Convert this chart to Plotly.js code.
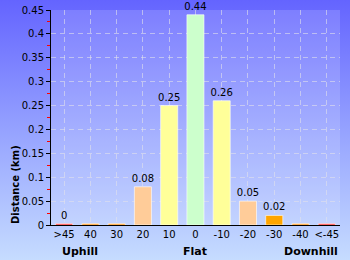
<!DOCTYPE html>
<html>
<head>
<meta charset="utf-8">
<script src="https://cdn.plot.ly/plotly-3.0.1.min.js"></script>
<style>
html,body{margin:0;padding:0;}
body{width:350px;height:260px;background:linear-gradient(to bottom,#6464ff 0%,#9aa8ff 55%,#c6dcff 100%);}
#chart{width:350px;height:260px;}
</style>
</head>
<body>
<div id="chart"></div>
<script>
const categories = ["&gt;45","40","30","20","10","0","-10","-20","-30","-40","&lt;-45"];
const distances = [0.003,0.003,0.003,0.08,0.25,0.44,0.26,0.05,0.02,0.003,0.003];
const labels = ["0","","","0.08","0.25","0.44","0.26","0.05","0.02","",""];
const colors = ["#ff2020","#ff8c00","#ff8c00","#ffcc99","#ffff99","#ccffcc","#ffff99","#ffcc99","#ffa500","#ff8c00","#ff2020"];
const groups = ["Uphill","Flat","Downhill"];
const groupPos = [0.6,5,9.4];

const trace = {
  type:'bar', x:categories, y:distances, text:labels,
  textposition:'outside', cliponaxis:false, constraintext:'none',
  textfont:{family:'DejaVu Sans', size:10, color:'#000'},
  marker:{color:colors, line:{color:'rgba(255,255,255,0.6)', width:1}},
  width:0.65, hoverinfo:'none'
};

const annotations = groups.map((g,i)=>({
  text:'<b>'+g+'</b>', x:groupPos[i], xref:'x', y:-0.125, yref:'paper',
  showarrow:false, font:{family:'DejaVu Sans', size:11, color:'#000'}, xanchor:'center', yanchor:'middle'
}));
annotations.push({
  text:'<b>Distance (km)</b>', textangle:-90, x:-0.125, xref:'paper', y:0.19, yref:'paper',
  showarrow:false, font:{family:'DejaVu Sans', size:10, color:'#000'}, xanchor:'center', yanchor:'middle'
});

const layout = {
  width:350, height:260,
  margin:{l:51, r:10, t:10, b:35},
  paper_bgcolor:'rgba(0,0,0,0)',
  plot_bgcolor:'rgba(255,255,255,0.15)',
  showlegend:false,
  bargap:0.35,
  font:{family:'DejaVu Sans', size:10, color:'#000'},
  xaxis:{
    type:'category', showgrid:true, gridcolor:'rgba(225,225,235,0.6)', griddash:'5px,4px', gridwidth:1,
    showline:true, linecolor:'#000', linewidth:1, ticks:'', tickfont:{family:'DejaVu Sans', size:10, color:'#000'},
    fixedrange:true
  },
  yaxis:{
    range:[0,0.45], dtick:0.05, tick0:0, showgrid:true, gridcolor:'rgba(225,225,235,0.6)', griddash:'5px,4px',
    showline:true, linecolor:'#000', linewidth:1, ticks:'outside', ticklen:4, tickcolor:'#000',
    tickfont:{family:'DejaVu Sans', size:10, color:'#000'}, zeroline:false,
    minor:{ticks:'outside', ticklen:3, tickcolor:'#ff0000', dtick:0.025, tick0:0, showgrid:false},
    fixedrange:true
  },
  annotations:annotations
};

Plotly.newPlot('chart',[trace],layout,{displayModeBar:false, staticPlot:true});
</script>
</body>
</html>
